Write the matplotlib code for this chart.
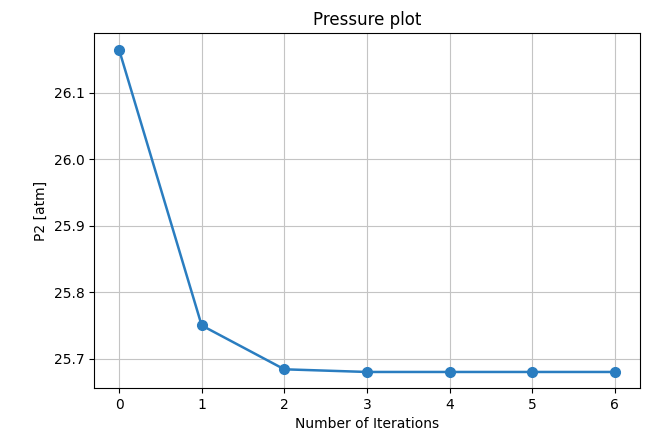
import matplotlib
matplotlib.use("Agg")
import matplotlib.pyplot as plt

iterations = [0, 1, 2, 3, 4, 5, 6]
p2_atm = [26.165, 25.750, 25.684, 25.680, 25.680, 25.680, 25.680]

fig, ax = plt.subplots(figsize=(6.5, 4.4), dpi=100)
fig.subplots_adjust(left=0.145, right=0.984, top=0.924, bottom=0.118)
ax.plot(iterations, p2_atm, marker='o', color='#2a7dc0', linewidth=1.8, markersize=7)
ax.set_title("Pressure plot")
ax.set_xlabel("Number of Iterations")
ax.set_ylabel("P2 [atm]")
ax.grid(True, color='#c4c4c4')
fig.savefig("out.png")
